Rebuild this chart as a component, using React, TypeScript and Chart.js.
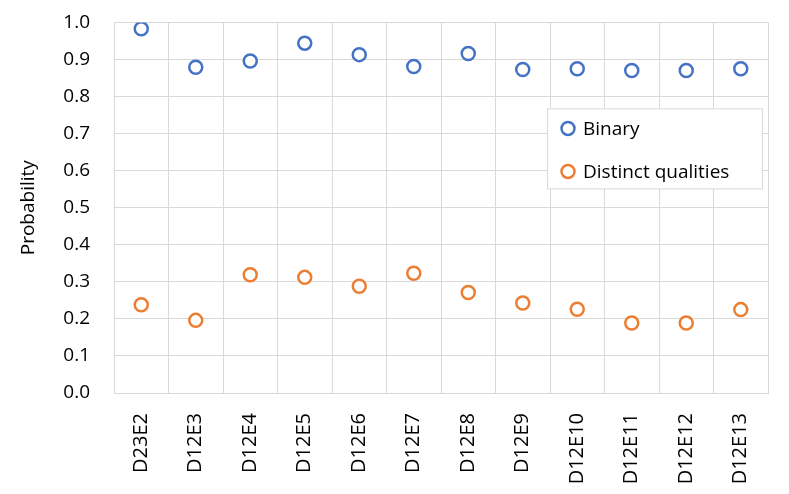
import React, { useEffect, useRef } from "react";
import { Chart, registerables } from "chart.js";

Chart.register(...registerables);

const categories = ["D23E2", "D12E3", "D12E4", "D12E5", "D12E6", "D12E7", "D12E8", "D12E9", "D12E10", "D12E11", "D12E12", "D12E13"];
const binary = [0.983, 0.879, 0.896, 0.944, 0.913, 0.881, 0.916, 0.873, 0.875, 0.870, 0.870, 0.875];
const distinct = [0.238, 0.196, 0.319, 0.312, 0.288, 0.323, 0.271, 0.243, 0.226, 0.189, 0.189, 0.225];
const seriesNames = ["Binary", "Distinct qualities"];
const yTicks = [0, 0.1, 0.2, 0.3, 0.4, 0.5, 0.6, 0.7, 0.8, 0.9, 1.0];

const BLUE = "#4472C4";
const ORANGE = "#ED7D31";
const GRID = "#D9D9D9";
const FONT = "'Open Sans', Lato, sans-serif";

const insideLegend = {
  id: "insideLegend",
  afterDraw(chart: any) {
    const { ctx, chartArea } = chart;
    const left = chartArea.right - 221;
    const top = chartArea.top + 86;
    const w = 215;
    const h = 80;
    ctx.save();
    ctx.fillStyle = "#FFFFFF";
    ctx.fillRect(left, top, w, h);
    ctx.strokeStyle = GRID;
    ctx.lineWidth = 1;
    ctx.strokeRect(left + 0.5, top + 0.5, w, h);
    chart.data.datasets.forEach((ds: any, i: number) => {
      const cy = top + 20 + i * 43;
      const cx = left + 21;
      ctx.beginPath();
      ctx.arc(cx, cy, 6.5, 0, Math.PI * 2);
      ctx.fillStyle = "#FFFFFF";
      ctx.fill();
      ctx.lineWidth = 2.5;
      ctx.strokeStyle = ds.borderColor;
      ctx.stroke();
      ctx.fillStyle = "#000000";
      ctx.font = `19px ${FONT}`;
      ctx.textBaseline = "middle";
      ctx.textAlign = "left";
      ctx.fillText(ds.label, left + 36, cy + 1);
    });
    ctx.restore();
  },
};

export default function App() {
  const ref = useRef<HTMLCanvasElement | null>(null);
  useEffect(() => {
    document.body.style.margin = "0";
    const canvas = ref.current;
    if (!canvas) return;
    const chart = new Chart(canvas, {
      type: "line",
      data: {
        labels: categories,
        datasets: [
          {
            label: seriesNames[0],
            data: binary,
            showLine: false,
            borderColor: BLUE,
            backgroundColor: "#FFFFFF",
            pointRadius: 6.5,
            pointBorderWidth: 2.5,
            pointBackgroundColor: "#FFFFFF",
            pointBorderColor: BLUE,
          },
          {
            label: seriesNames[1],
            data: distinct,
            showLine: false,
            borderColor: ORANGE,
            backgroundColor: "#FFFFFF",
            pointRadius: 6.5,
            pointBorderWidth: 2.5,
            pointBackgroundColor: "#FFFFFF",
            pointBorderColor: ORANGE,
          },
        ],
      },
      options: {
        animation: false,
        responsive: false,
        maintainAspectRatio: false,
        layout: { autoPadding: false, padding: { top: 0, right: 21, left: 0, bottom: 0 } },
        plugins: {
          legend: { display: false },
          tooltip: { enabled: false },
        },
        scales: {
          x: {
            type: "category",
            offset: true,
            grid: { offset: true, color: GRID, lineWidth: 1, drawTicks: false },
            border: { color: GRID, width: 1 },
            ticks: {
              color: "#000000",
              font: { family: FONT, size: 20 },
              minRotation: 90,
              maxRotation: 90,
              padding: 20,
              autoSkip: false,
            },
            afterFit(scale: any) {
              scale.height = 101;
            },
          },
          y: {
            min: 0,
            max: 1,
            afterBuildTicks(scale: any) {
              scale.ticks = yTicks.map((v) => ({ value: v }));
            },
            grid: { color: GRID, lineWidth: 1, drawTicks: true, tickLength: 13, tickColor: "rgba(0,0,0,0)" },
            border: { color: GRID, width: 1 },
            ticks: {
              color: "#000000",
              font: { family: FONT, size: 19 },
              padding: 11,
              callback: (v: any) => Number(v).toFixed(1),
            },
            title: {
              display: true,
              text: "Probability",
              color: "#000000",
              font: { family: FONT, size: 19 },
              padding: { top: 17, bottom: 10 },
            },
            afterFit(scale: any) {
              scale.width = 114;
            },
          },
        },
      },
      plugins: [insideLegend],
    });
    return () => chart.destroy();
  }, []);
  return (
    <div style={{ width: 789, height: 494 }}>
      <canvas ref={ref} width={789} height={494} style={{ width: 789, height: 494, display: "block" }} />
    </div>
  );
}
